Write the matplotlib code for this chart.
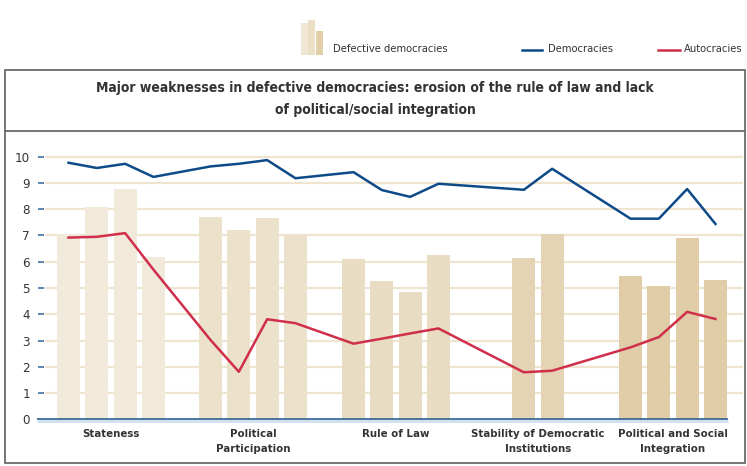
import matplotlib.pyplot as plt
from matplotlib.patches import Rectangle
from matplotlib.lines import Line2D

plt.rcParams['font.family'] = ['DejaVu Sans']
plt.rcParams['font.stretch'] = 'condensed'

categories = ["Stateness", "Political\nParticipation", "Rule of Law",
              "Stability of Democratic\nInstitutions", "Political and Social\nIntegration"]

defective = [[7.05, 8.08, 8.77, 6.18],
             [7.70, 7.21, 7.67, 6.97],
             [6.10, 5.26, 4.84, 6.26],
             [6.14, 7.06],
             [5.46, 5.08, 6.90, 5.31]]
democracies = [[9.77, 9.57, 9.73, 9.23],
               [9.63, 9.73, 9.87, 9.18],
               [9.41, 8.73, 8.47, 8.97],
               [8.74, 9.54],
               [7.64, 7.64, 8.77, 7.44]]
autocracies = [[6.92, 6.95, 7.09, 5.70],
               [3.02, 1.81, 3.81, 3.66],
               [2.88, 3.07, 3.27, 3.46],
               [1.79, 1.85],
               [2.74, 3.13, 4.09, 3.82]]

bar_colors = ["#f1e9da", "#ece1cb", "#e8dcc3", "#e4d4b5", "#e0cca6"]
blue = "#0d4a87"
red = "#cf2f4a"
text_col = "#333333"

W, H = 747, 466
fig = plt.figure(figsize=(W / 100, H / 100), dpi=100)


def fx(x):
    return x / W


def fy(y):
    return 1 - y / H


# plot area in pixel units: x data == pixel column
ax_left, ax_right = 37, 743
y0_px, unit = 419.3, 26.26
ymax = 10.65
ax = fig.add_axes([fx(ax_left), fy(y0_px), (ax_right - ax_left) / W, ymax * unit / H])
ax.set_xlim(ax_left, ax_right)
ax.set_ylim(0, ymax)
for s in ax.spines.values():
    s.set_visible(False)
ax.set_xticks([])
ax.set_yticks(range(0, 11))
ax.tick_params(axis='y', length=0, pad=5, labelsize=9.5, labelcolor=text_col)

# gridlines
for v in range(1, 11):
    ax.plot([45, ax_right], [v, v], color="#efe4cf", lw=1.6, zorder=0, solid_capstyle='butt')
    ax.plot([37.5, 43.5], [v, v], color="#4f7bab", lw=1.3, zorder=1, solid_capstyle='butt')

centers = [111, 253, 396, 538, 673]
step = 28.3
xs_all, dem_all, aut_all = [], [], []
for g, c in enumerate(centers):
    n = len(defective[g])
    xs = [c + (i - (n - 1) / 2) * step for i in range(n)]
    ax.bar(xs, defective[g], width=23, color=bar_colors[g], zorder=2)
    xs_all += xs
    dem_all += democracies[g]
    aut_all += autocracies[g]
    ax.text(c, -0.38, categories[g], ha='center', va='top', fontsize=8.2,
            fontweight='bold', color=text_col, linespacing=1.6)

ax.plot(xs_all, dem_all, color=blue, lw=1.8, zorder=3)
ax.plot(xs_all, aut_all, color=red, lw=1.8, zorder=3)

# x axis line with light shadow
ax.plot([37, 728], [-0.06, -0.06], color="#d3e0ee", lw=2.2, zorder=3, solid_capstyle='butt', clip_on=False)
ax.plot([37, 728], [0, 0], color="#2d5f92", lw=1.2, zorder=4, solid_capstyle='butt', clip_on=False)

# frame and title block
fig.add_artist(Rectangle((fx(4.5), fy(463)), (745 - 4.5) / W, (463 - 69.5) / H,
                         transform=fig.transFigure, fill=False, ec="#6a6a6a", lw=1.3))
fig.add_artist(Line2D([fx(4.5), fx(745)], [fy(130.5), fy(130.5)],
                      transform=fig.transFigure, color="#6a6a6a", lw=1.3))
fig.text(fx(375), fy(99), "Major weaknesses in defective democracies: erosion of the rule of law and lack\n"
         "of political/social integration", ha='center', va='center', fontsize=10,
         fontweight='bold', color=text_col, linespacing=1.75)

# legend
icon = [(301, 22.7, "#efe6d6"), (307.7, 20, "#ebdfc6"), (316, 31, "#e2cfaa")]
for x, top, col in icon:
    fig.add_artist(Rectangle((fx(x), fy(55)), 7 / W, (55 - top) / H,
                             transform=fig.transFigure, color=col, lw=0))
fig.text(fx(333), fy(49), "Defective democracies", ha='left', va='center', fontsize=8, color=text_col)
fig.add_artist(Line2D([fx(522), fx(542)], [fy(50), fy(50)], transform=fig.transFigure, color=blue, lw=1.8))
fig.text(fx(548), fy(49), "Democracies", ha='left', va='center', fontsize=8, color=text_col)
fig.add_artist(Line2D([fx(658), fx(680)], [fy(50), fy(50)], transform=fig.transFigure, color=red, lw=1.8))
fig.text(fx(684), fy(49), "Autocracies", ha='left', va='center', fontsize=8, color=text_col)

fig.savefig("out.png", dpi=100)
